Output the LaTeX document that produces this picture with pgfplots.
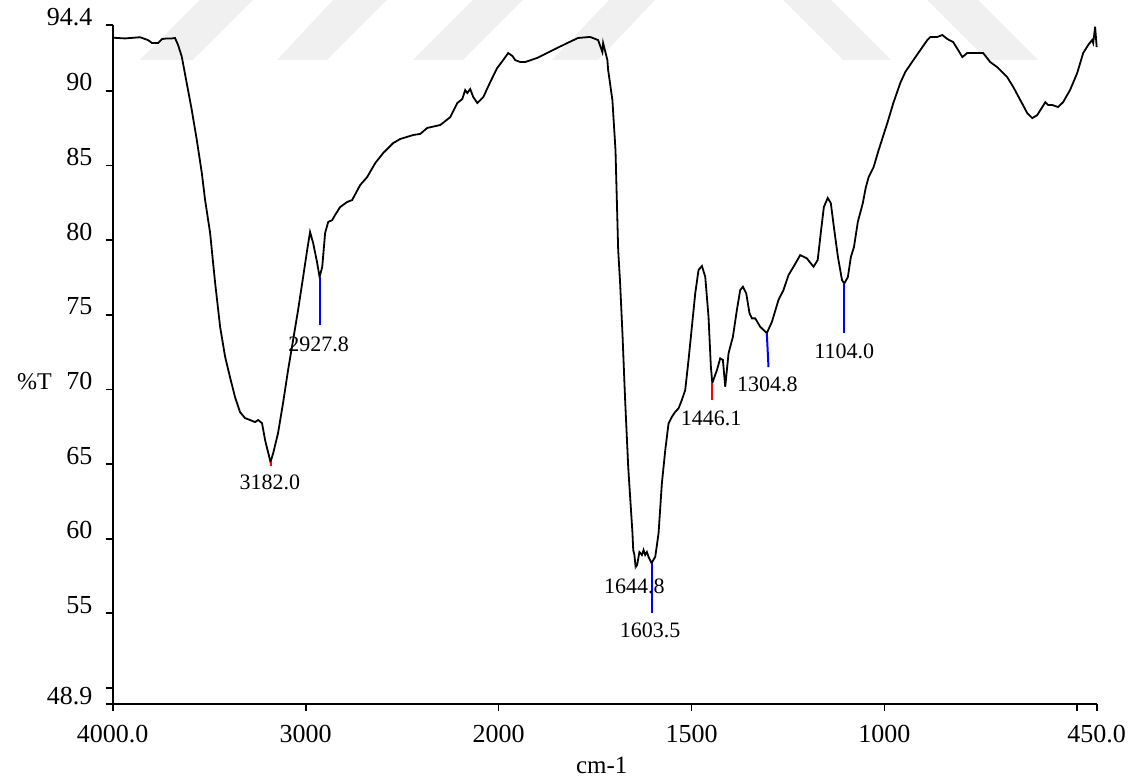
\documentclass[border=0pt]{standalone}
\usepackage{fontspec}
\setmainfont{Liberation Serif}
\usepackage{pgfplots}
\pgfplotsset{compat=1.18}

% IR spectrum: wavenumber (cm-1) against transmittance (%T)
\pgfplotstableread{
wn      T
4000    93.57
3936    93.52
3858    93.60
3817    93.41
3796    93.21
3765    93.21
3744    93.48
3718    93.52
3692    93.52
3677    93.55
3661    93.08
3642    92.30
3616    90.51
3590    88.72
3564    86.71
3538    84.50
3521    82.69
3495    80.48
3469    77.13
3443    74.18
3417    72.17
3392    70.83
3366    69.49
3340    68.48
3314    68.08
3288    67.95
3262    67.81
3246    67.95
3226    67.74
3210    66.60
3182    65.13
3168    65.73
3143    67.07
3117    69.08
3091    71.29
3065    73.31
3039    75.32
3013    77.53
2992    79.34
2977    80.55
2961    79.81
2940    78.47
2927.8  77.53
2914    78.20
2899    80.48
2883    81.22
2862    81.35
2847    81.69
2821    82.22
2785    82.56
2759    82.69
2717    83.70
2681    84.23
2639    85.17
2598    85.84
2546    86.51
2510    86.78
2442    87.05
2406    87.12
2370    87.52
2302    87.72
2250    88.25
2214    89.19
2188    89.46
2173    90.06
2162    89.86
2147    90.13
2131    89.59
2110    89.19
2079    89.59
2043    90.60
2007    91.54
1988    92.07
1975    92.54
1964    92.34
1957    92.07
1944    91.94
1931    91.94
1900    92.21
1859    92.74
1822    93.21
1794    93.55
1763    93.62
1742    93.41
1731    92.61
1729    93.21
1718    92.07
1716    91.40
1705    89.39
1697    86.04
1690    79.34
1685    77.13
1679    73.78
1672    69.29
1664    64.80
1653    60.38
1651    59.24
1648    58.91
1644.8  58.09
1641    58.23
1635    59.10
1628.5  58.91
1624.3  59.24
1620    58.91
1615.6  59.10
1611.3  58.78
1603.5  58.36
1594    58.78
1585.4  60.35
1576.8  63.70
1568    65.93
1559.5  67.72
1550.7  68.17
1542    68.50
1533.6  68.73
1525    69.29
1516.3  69.96
1507.7  71.97
1499    74.20
1490.3  76.44
1481.8  78.00
1473    78.27
1464.4  77.55
1455.9  74.87
1449.8  71.52
1446.1  70.43
1434    71.30
1425.6  72.08
1418.6  71.97
1412.6  70.18
1404    72.42
1392.7  73.53
1382.4  75.32
1373.8  76.66
1366.8  76.88
1358.2  76.44
1349.6  75.10
1343.4  74.76
1334.9  74.76
1322    74.20
1304.8  73.77
1291.6  74.53
1274.5  76.00
1261.6  76.66
1248.6  77.66
1235.6  78.22
1218.3  79.00
1201    78.78
1183.8  78.22
1173    78.67
1165    80.48
1157    82.22
1147    82.83
1139    82.49
1131    80.88
1120.5  78.87
1110    77.33
1104    77.10
1094.8  77.53
1087    78.87
1079    79.54
1069    81.22
1056    82.49
1048.6  83.50
1041    84.23
1028    84.90
1015    86.04
992.5   87.85
977     89.19
959     90.53
946     91.27
925     92.07
907     92.74
889     93.41
881     93.62
863     93.62
850     93.75
837     93.48
822     93.28
809     92.74
798     92.27
785.6   92.54
752     92.54
744     92.54
726     91.94
708     91.60
682     90.93
666     90.26
648     89.39
630     88.52
617     88.18
604     88.38
591     88.92
583     89.25
575.6   89.06
565     89.06
550     88.92
537     89.25
519     90.06
500.5   91.20
485     92.54
472     93.08
462     93.41
459     93.21
454     94.30
450     92.94
}\spectrum

\begin{document}
\begin{tikzpicture}
\useasboundingbox (-56.35pt,-38.85pt) rectangle (511.65pt,352.15pt);

% faint background bands along the top edge
\begin{scope}[shift={(-56.35pt,352.15pt)}, x=0.5pt, y=-0.5pt]
  \fill[black!6] (140,60) -- (193,60) -- (254,-1) -- (201,-1) -- cycle;
  \fill[black!6] (277,60) -- (327,60) -- (388,-1) -- (334,-1) -- cycle;
  \fill[black!6] (413,60) -- (463,60) -- (524,-1) -- (474,-1) -- cycle;
  \fill[black!6] (552,60) -- (598,60) -- (656,-1) -- (610,-1) -- cycle;
  \fill[black!6] (782,-1) -- (830,-1) -- (891,60) -- (843,60) -- cycle;
  \fill[black!6] (926,-1) -- (977,-1) -- (1038,60) -- (987,60) -- cycle;
\end{scope}

\begin{axis}[
  at={(0pt,0pt)}, anchor=south west,
  scale only axis, width=492pt, height=339.5pt,
  % the wavenumber scale is doubled below 2000 cm-1
  x coord trafo/.code={\pgfmathparse{#1<2000 ? 2*#1-2000 : #1}},
  x dir=reverse,
  xmin=450, xmax=4000, ymin=48.9, ymax=94.4,
  axis x line*=bottom, axis y line*=left,
  axis line style={line width=0.9pt},
  tick align=outside, major tick length=3.5pt,
  tick style={line width=0.9pt, black},
  xtick={4000,3000,2000,1500,1000,500,450},
  xticklabels={4000.0,3000,2000,1500,1000,,450.0},
  ytick={48.9,50,55,60,65,70,75,80,85,90,94.4},
  yticklabels={48.9,,55,60,65,70,75,80,85,90,94.4},
  ticklabel style={font=\fontsize{13}{13}\selectfont},
  xticklabel style={anchor=base, inner sep=0pt, yshift=-15.6pt},
  yticklabel style={anchor=base east, inner sep=0pt, xshift=-6.5pt},
  clip=false,
]
\addplot[black, line width=0.9pt, mark=none] table[x=wn, y=T] {\spectrum};

% peak markers
\draw[red,  line width=1pt] (axis cs:3182.0,65.13) -- (axis cs:3182.0,64.90);
\draw[blue, line width=1pt] (axis cs:2927.8,77.53) -- (axis cs:2927.8,74.31);
\draw[red,  line width=1pt] (axis cs:1647.5,58.00) -- (axis cs:1644.8,58.00);
\draw[blue, line width=1pt] (axis cs:1603.5,58.36) -- (axis cs:1603.5,55.00);
\draw[red,  line width=1pt] (axis cs:1446.1,70.43) -- (axis cs:1446.1,69.30);
\draw[blue, line width=1pt] (axis cs:1304.8,73.77) -- (axis cs:1300.5,71.50);
\draw[blue, line width=1pt] (axis cs:1104.0,77.10) -- (axis cs:1104.0,73.76);

\begin{scope}[every node/.style={anchor=base, inner sep=0pt, font=\fontsize{11}{11}\selectfont}]
\node at (axis cs:3185.0,63.32) {3182.0};
\node at (axis cs:2932.0,72.52) {2927.8};
\node at (axis cs:1648.0,56.35) {1644.8};
\node at (axis cs:1607.0,53.38) {1603.5};
\node at (axis cs:1449.0,67.56) {1446.1};
\node at (axis cs:1303.5,69.84) {1304.8};
\node at (axis cs:1104.0,72.08) {1104.0};
\end{scope}

\node[anchor=base west, inner sep=0pt, font=\fontsize{12}{12}\selectfont]
  at ([xshift=-48pt]axis cs:4000,70) {\%T};
\node[anchor=base, inner sep=0pt, font=\fontsize{12.5}{12.5}\selectfont]
  at ([yshift=-34.35pt]rel axis cs:0.497,0) {cm-1};
\end{axis}
\end{tikzpicture}
\end{document}
